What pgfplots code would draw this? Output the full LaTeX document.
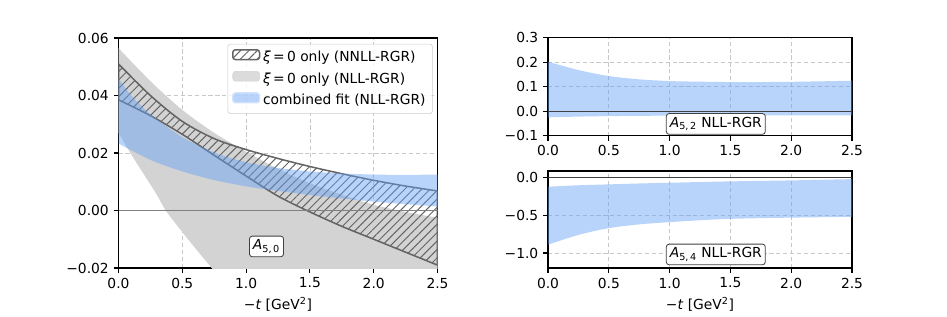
\documentclass[border=0pt]{standalone}
\usepackage{fontspec}
\setmainfont{DejaVu Sans}
\usepackage{pgfplots}
\pgfplotsset{compat=1.18}
\usepgfplotslibrary{fillbetween}
\usetikzlibrary{patterns.meta}
\definecolor{bandblue}{RGB}{100,160,245}
\definecolor{bandgray}{RGB}{211,211,211}
\definecolor{hatchgray}{RGB}{100,100,100}
\definecolor{gridgray}{RGB}{200,200,200}
\tikzset{
  boxnode/.style={draw=black!75, fill=white, rounded corners=2pt, inner sep=2.5pt, line width=0.6pt, font=\fontsize{10}{12}\selectfont},
}
\pgfplotsset{
  mpl/.style={
    scale only axis,
    axis line style={black,line width=0.8pt},
    tick align=outside, xtick pos=lower, ytick pos=left,
    major tick length=3.5pt,
    tick style={black,line width=0.8pt},
    grid=major,
    major grid style={gridgray,line width=0.5pt,dash pattern=on 3pt off 2pt},
    tick label style={font=\fontsize{10}{12}\selectfont},
    label style={font=\fontsize{10}{12}\selectfont},
    xmin=0, xmax=2.5,
    xtick={0,0.5,1,1.5,2,2.5},
    xticklabels={0.0,0.5,1.0,1.5,2.0,2.5},
    scaled ticks=false,
    clip=true,
  },
  patchleg/.style={legend image code/.code={\draw[##1] (0cm,-0.06cm) rectangle (0.68cm,0.19cm);}},
}
\begin{document}
\begin{tikzpicture}
% ---------------- left panel ----------------
\begin{axis}[mpl,
  at={(1.185in,0.48in)}, anchor=south west,
  width=3.19in, height=2.30in,
  ymin=-0.02, ymax=0.06,
  ytick={-0.02,0,0.02,0.04,0.06},
  yticklabels={−0.02,0.00,0.02,0.04,0.06},
  xlabel={−\textit{t} [GeV\textsuperscript{2}]},
  legend style={at={(0.985,0.975)}, anchor=north east, draw=black!20, rounded corners=2pt,
    fill=white, fill opacity=0.8, text opacity=1, font=\fontsize{10}{12}\selectfont,
    row sep=2.5pt, inner sep=3pt},
  legend cell align=left,
]
% gray band (NLL, xi=0)
\addplot[name path=gu, draw=none, forget plot, smooth] coordinates {(0,0.0565) (0.25,0.045) (0.5,0.035) (0.75,0.027) (1.0,0.0205) (1.25,0.0145) (1.5,0.0095) (1.75,0.0055) (2.0,0.002) (2.25,-0.0005) (2.5,-0.0025)};
\addplot[name path=gl, draw=none, forget plot, smooth] coordinates {(0,0.027) (0.1,0.0195) (0.2,0.0125) (0.3,0.0055) (0.37,0.0) (0.5,-0.0075) (0.6,-0.013) (0.73,-0.020) (0.9,-0.029) (1.2,-0.043) (1.6,-0.06) (2.0,-0.075) (2.5,-0.092)};
\addplot[fill=bandgray, draw=none, forget plot] fill between[of=gu and gl];
% zero line
\addplot[black!50, line width=0.9pt, forget plot] coordinates {(0,0) (2.5,0)};
% hatched band (NNLL, xi=0)
\addplot[name path=hu, draw=none, forget plot, smooth] coordinates {(0,0.0510) (0.25,0.0400) (0.5,0.0310) (0.75,0.0250) (1.0,0.0212) (1.25,0.0181) (1.5,0.0153) (1.75,0.0128) (2.0,0.0105) (2.25,0.0085) (2.5,0.0068)};
\addplot[name path=hl, draw=none, forget plot, smooth] coordinates {(0,0.0385) (0.25,0.0330) (0.5,0.0265) (0.75,0.0192) (1.0,0.0120) (1.25,0.0050) (1.5,-0.0005) (1.75,-0.0055) (2.0,-0.0100) (2.25,-0.0145) (2.5,-0.0190)};
\addplot[pattern={Lines[angle=45,distance=4.3pt,line width=0.7pt]}, pattern color=hatchgray, draw=hatchgray, line width=1.1pt, forget plot] fill between[of=hu and hl];
% blue band (combined fit)
\addplot[name path=bu, draw=none, forget plot, smooth] coordinates {(0,0.046) (0.1,0.040) (0.25,0.0335) (0.5,0.0255) (0.75,0.0202) (1.0,0.0168) (1.25,0.0148) (1.5,0.0136) (1.75,0.0129) (2.0,0.0125) (2.25,0.0124) (2.5,0.0125)};
\addplot[name path=bl, draw=none, forget plot, smooth] coordinates {(0,0.0233) (0.25,0.0176) (0.5,0.0136) (0.75,0.0106) (1.0,0.0084) (1.25,0.0068) (1.5,0.0054) (1.75,0.0042) (2.0,0.0031) (2.25,0.0022) (2.5,0.0014)};
\addplot[fill=bandblue, fill opacity=0.45, draw=none, forget plot] fill between[of=bu and bl];
% legend
\addlegendimage{patchleg, pattern={Lines[angle=45,distance=4.3pt,line width=0.7pt]}, pattern color=hatchgray, draw=hatchgray, line width=1.1pt}
\addlegendentry{\textit{ξ}\,=\,0 only (NNLL-RGR)}
\addlegendimage{patchleg, fill=bandgray, draw=bandgray}
\addlegendentry{\textit{ξ}\,=\,0 only (NLL-RGR)}
\addlegendimage{patchleg, fill=bandblue, fill opacity=0.45, draw=bandblue!30, draw opacity=1, line width=1pt}
\addlegendentry{combined fit (NLL-RGR)}
\node[boxnode] at (axis cs:1.16,-0.0125) {\textit{A}\textsubscript{5,\,0}};
\end{axis}
% ---------------- right top ----------------
\begin{axis}[mpl,
  at={(5.48in,1.803in)}, anchor=south west,
  width=3.04in, height=0.98in,
  ymin=-0.1, ymax=0.3,
  ytick={-0.1,0,0.1,0.2,0.3},
  yticklabels={−0.1,0.0,0.1,0.2,0.3},
]
\addplot[name path=au, draw=none, smooth] coordinates {(0,0.202) (0.25,0.168) (0.5,0.1435) (0.75,0.130) (1.0,0.123) (1.25,0.1205) (1.5,0.119) (1.75,0.119) (2.0,0.120) (2.25,0.122) (2.5,0.1245)};
\addplot[name path=al, draw=none, smooth] coordinates {(0,-0.025) (0.25,-0.022) (0.5,-0.020) (0.75,-0.019) (1.0,-0.018) (1.5,-0.0175) (2.0,-0.0172) (2.5,-0.017)};
\addplot[fill=bandblue, fill opacity=0.45, draw=none] fill between[of=au and al];
\addplot[black!75, line width=0.8pt] coordinates {(0,0) (2.5,0)};
\node[boxnode] at (axis cs:1.38,-0.052) {\textit{A}\textsubscript{5,\,2} NLL-RGR};
\end{axis}
% ---------------- right bottom ----------------
\begin{axis}[mpl,
  at={(5.48in,0.48in)}, anchor=south west,
  width=3.04in, height=0.97in,
  ymin=-1.2, ymax=0.09,
  ytick={-1,-0.5,0},
  yticklabels={−1.0,−0.5,0.0},
  xlabel={−\textit{t} [GeV\textsuperscript{2}]},
]
\addplot[name path=cu, draw=none, smooth] coordinates {(0,-0.119) (0.25,-0.100) (0.5,-0.088) (0.75,-0.076) (1.0,-0.066) (1.5,-0.048) (2.0,-0.035) (2.5,-0.018)};
\addplot[name path=cl, draw=none, smooth] coordinates {(0,-0.89) (0.25,-0.76) (0.5,-0.67) (0.75,-0.62) (1.0,-0.59) (1.25,-0.565) (1.5,-0.546) (2.0,-0.530) (2.5,-0.520)};
\addplot[fill=bandblue, fill opacity=0.45, draw=none] fill between[of=cu and cl];
\addplot[black!75, line width=0.8pt] coordinates {(0,0) (2.5,0)};
\node[boxnode] at (axis cs:1.38,-1.02) {\textit{A}\textsubscript{5,\,4} NLL-RGR};
\end{axis}
\path (0,0) rectangle (9.47in,3.16in);
\end{tikzpicture}
\end{document}
